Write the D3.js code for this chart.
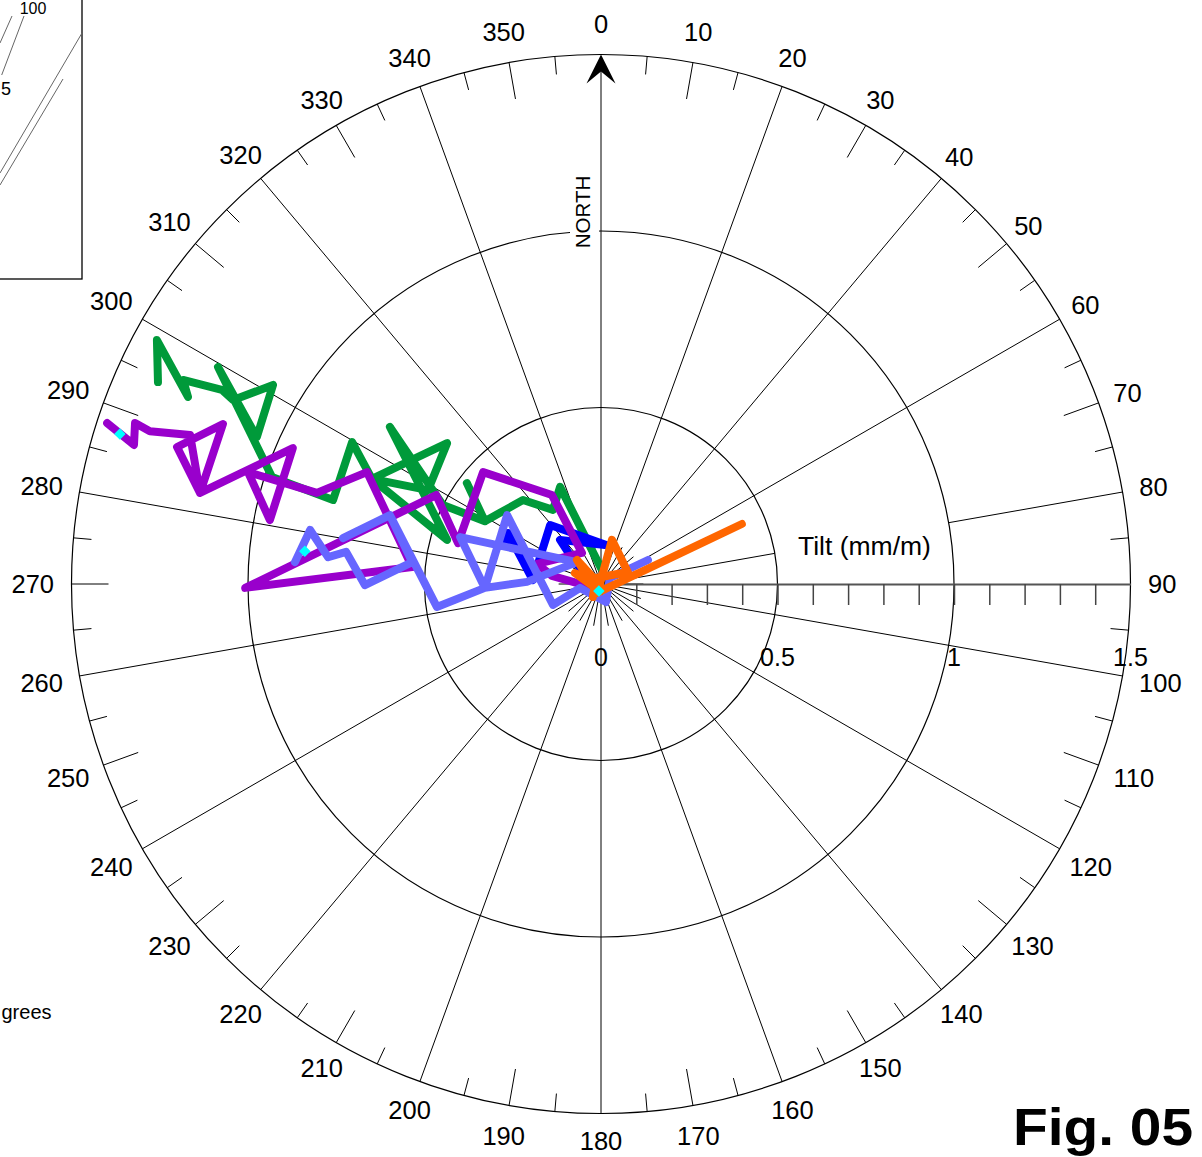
<!DOCTYPE html>
<html><head><meta charset="utf-8">
<script src="https://cdn.jsdelivr.net/npm/d3@7"></script>
<style>
html,body{margin:0;padding:0;background:#fff;}
svg{display:block;}
text{font-family:"Liberation Sans", Arial, sans-serif;}
</style>
</head><body>
<svg id="chart" width="1202" height="1157"></svg>
<script>
// ---------- data (tilt in mm/m: [east, north]) ----------
const ringValues = [0.5, 1.0, 1.5];
const radialLabelValues = [0, 0.5, 1, 1.5];
const radialTickLabels = ["0", "0.5", "1", "1.5"];
const angleLabelValues = d3.range(0, 360, 10);

const greenSeries = [
  [-1.255,0.572],[-1.258,0.691],[-1.170,0.530],[-1.184,0.578],[-1.074,0.550],[-1.042,0.521],
  [-0.929,0.564],[-0.975,0.416],[-1.085,0.615],[-0.932,0.303],[-0.759,0.238],[-0.705,0.402],
  [-0.649,0.298],[-0.436,0.399],[-0.490,0.266],[-0.649,0.298],[-0.436,0.125],[-0.598,0.445],
  [-0.448,0.224],[-0.329,0.178],[-0.380,0.286],[-0.329,0.178],[-0.221,0.238],[-0.136,0.210],
  [-0.116,0.275],[0.000,0.045]
];
const purpleSeries = [
  [-1.399,0.456],[-1.323,0.394],[-1.320,0.456],[-1.278,0.433],[-1.164,0.422],[-1.136,0.258],
  [-1.071,0.453],[-1.201,0.388],[-1.136,0.258],[-0.873,0.385],[-0.938,0.181],[-1.000,0.317],
  [-0.805,0.258],[-0.663,0.317],[-0.535,0.048],[-1.008,-0.011],[-0.467,0.252],[-0.405,0.116],
  [-0.334,0.317],[-0.139,0.252],[-0.054,0.088],[-0.181,0.057],[-0.139,0.023],[-0.020,-0.011]
];
const lightBlueSeries = [
  [-0.867,0.062],[-0.824,0.153],[-0.773,0.076],[-0.722,0.091],[-0.669,-0.003],[-0.535,0.062],
  [-0.598,0.195],[-0.731,0.130],[-0.598,0.195],[-0.465,-0.065],[-0.329,-0.011],[-0.399,0.133],
  [-0.068,0.062],[-0.210,0.006],[-0.329,-0.011],[-0.266,0.195],[-0.136,-0.059],[-0.059,-0.011],
  [0.014,-0.051],[0.025,0.017],[0.133,0.068]
];
const blueSeries = [
  [-0.003,-0.017],[-0.079,0.068],[-0.116,0.125],[0.017,0.110],[-0.144,0.167],[-0.193,0.011],
  [-0.263,0.144],[-0.278,0.110],[-0.229,0.110]
];
const orangeSeries = [
  [0.399,0.170],[-0.011,-0.025],[-0.068,0.068],[-0.003,-0.003],[-0.074,0.031],[-0.008,-0.017],
  [0.031,0.125],[0.076,0.034],[-0.014,0.017],[-0.023,-0.037]
];
const markerPoints = [[-1.363,0.425],[-0.839,0.093],[-0.006,-0.020]];
const seriesColors = ["#009a3a", "#0000ff", "#9900cc", "#6666ff", "#ff6600"];

// ---------- layout ----------
const cx = 601, cy = 584, R = 529.5;
const svg = d3.select("#chart");
const r = d3.scaleLinear().domain([0, 1.5]).range([0, R]);
const x = d3.scaleLinear().domain([-1.5, 1.5]).range([cx - R, cx + R]);
const y = d3.scaleLinear().domain([-1.5, 1.5]).range([cy + R, cy - R]);
function pol(deg, rad) { const a = deg * Math.PI / 180; return [cx + rad * Math.sin(a), cy - rad * Math.cos(a)]; }

const grid = svg.append("g");
function seg(g, a, r0, r1, w, col) {
  const p0 = pol(a, r0), p1 = pol(a, r1);
  g.append("line").attr("x1", p0[0]).attr("y1", p0[1]).attr("x2", p1[0]).attr("y2", p1[1])
    .attr("stroke", col || "#000").attr("stroke-width", w || 1);
}
// rings
grid.selectAll("circle.ring").data(ringValues).join("circle").attr("class", "ring")
  .attr("cx", cx).attr("cy", cy).attr("r", d => r(d))
  .attr("fill", "none").attr("stroke", "#000").attr("stroke-width", 1.2);
// main spokes every 20 deg
d3.range(0, 360, 20).forEach(a => {
  if (a === 0) { seg(grid, a, 0, r(1.5) - 10); return; }
  if (a === 80) { seg(grid, a, 0, r(0.5)); seg(grid, a, r(1.0), r(1.5)); return; }
  seg(grid, a, 0, r(1.5));
});
// short inner spokes
d3.range(10, 360, 20).forEach(a => seg(grid, a, 0, r(0.12)));
// outer ring ticks
d3.range(5, 360, 5).filter(a => a % 20 !== 0 && a !== 90).forEach(a => {
  const len = a % 10 === 0 ? 37 : 18;
  seg(grid, a, R - len, R);
});
// north arrow
const tip = pol(0, r(1.5));
grid.append("path")
  .attr("d", `M${tip[0]},${tip[1]} L${tip[0]-14.5},${tip[1]+29} L${tip[0]},${tip[1]+17} L${tip[0]+14.5},${tip[1]+29} Z`)
  .attr("fill", "#000");
// NORTH label with white mask
grid.append("rect").attr("x", cx - 31).attr("y", cy - r(1.0) - 56).attr("width", 29).attr("height", 76).attr("fill", "#fff");
grid.append("text").attr("transform", `translate(${cx - 11},${cy - r(1.0) - 19}) rotate(-90)`)
  .attr("text-anchor", "middle").attr("font-size", 20.5).text("NORTH");

// radial axis along 90 deg
const axisG = svg.append("g").attr("transform", `translate(${cx},${cy})`)
  .call(d3.axisBottom(r).tickValues(d3.range(1, 15).map(i => i / 10)).tickSize(21).tickSizeOuter(0).tickFormat(""));
axisG.select(".domain").attr("stroke", "#555").attr("stroke-width", 2);
axisG.selectAll(".tick line").attr("stroke", "#444").attr("stroke-width", 1.5);
svg.append("g").selectAll("text").data(radialLabelValues).join("text")
  .attr("x", d => cx + r(d)).attr("y", cy + 82).attr("text-anchor", "middle")
  .attr("font-size", 25).text((d, i) => radialTickLabels[i]);
svg.append("text").attr("x", 798).attr("y", 555).attr("font-size", 26.5).text("Tilt (mm/m)");

// angle labels
const fs = 25.5;
svg.append("g").selectAll("text").data(angleLabelValues).join("text")
  .each(function(a) {
    const s = String(a), w = s.length * fs * 0.556, h = 27;
    const rad = a * Math.PI / 180;
    const ext = 0.5 * Math.max(Math.abs(Math.sin(rad)) * w, Math.abs(Math.cos(rad)) * h);
    const p = pol(a, 547 + ext);
    const by = Math.min(p[1] + fs * 0.36, 1150);
    d3.select(this).attr("x", p[0]).attr("y", by).attr("text-anchor", "middle")
      .attr("font-size", fs).text(s);
  });

// data series
const line = d3.line().x(d => x(d[0])).y(d => y(d[1]));
const allSeries = [greenSeries, blueSeries, purpleSeries, lightBlueSeries, orangeSeries];
svg.append("g").selectAll("path").data(allSeries).join("path")
  .attr("d", d => line(d)).attr("fill", "none")
  .attr("stroke", (d, i) => seriesColors[i]).attr("stroke-width", 8)
  .attr("stroke-linejoin", "round").attr("stroke-linecap", "round");
svg.append("g").selectAll("path").data(markerPoints).join("path")
  .attr("d", d3.symbol(d3.symbolSquare, 66)())
  .attr("transform", d => `translate(${x(d[0])},${y(d[1])}) rotate(45)`)
  .attr("fill", "#00ffff");

// partial inset box (top-left)
const inset = svg.append("g");
inset.append("rect").attr("x", -2).attr("y", -2).attr("width", 84).attr("height", 281)
  .attr("fill", "none").attr("stroke", "#000").attr("stroke-width", 1.3);
[[12,16,0,43],[24,16,1.7,75],[82,33,0,173],[63,79,0,185]].forEach(l =>
  inset.append("line").attr("x1", l[0]).attr("y1", l[1]).attr("x2", l[2]).attr("y2", l[3])
    .attr("stroke", "#666").attr("stroke-width", 1));
inset.append("text").attr("x", 33).attr("y", 14).attr("text-anchor", "middle").attr("font-size", 16).text("100");
inset.append("text").attr("x", 11).attr("y", 95).attr("text-anchor", "end").attr("font-size", 18).text("5");
svg.append("text").attr("x", 1.5).attr("y", 1019).attr("font-size", 20).text("grees");

svg.append("text").attr("x", 1013).attr("y", 1145).attr("font-size", 52).attr("font-weight", "bold")
  .attr("textLength", 180).attr("lengthAdjust", "spacingAndGlyphs").text("Fig. 05");
</script>
</body></html>
